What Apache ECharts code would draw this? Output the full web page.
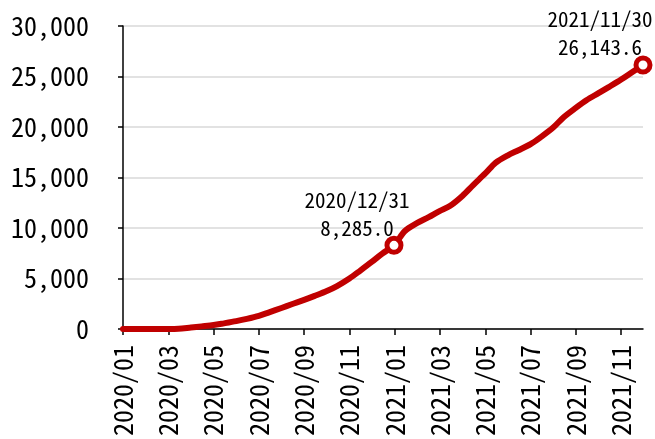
<!DOCTYPE html>
<html>
<head>
<meta charset="utf-8">
<script src="https://cdn.jsdelivr.net/npm/echarts@6/dist/echarts.min.js"></script>
<style>
  html, body { margin: 0; padding: 0; background: #fff; }
  #chart { width: 655px; height: 439px; }
</style>
</head>
<body>
<div id="chart"></div>
<script>
// Cumulative total, sampled on the 1st and mid-month, plus the two end-of-period values
const dates = [
  '2020/01/01', '2020/02/01', '2020/03/01', '2020/03/15', '2020/04/01', '2020/04/15',
  '2020/05/01', '2020/05/15', '2020/06/01', '2020/06/15', '2020/07/01', '2020/07/15',
  '2020/08/01', '2020/08/15', '2020/09/01', '2020/09/15', '2020/10/01', '2020/10/15',
  '2020/11/01', '2020/11/15', '2020/12/01', '2020/12/15', '2020/12/31',
  '2021/01/15', '2021/02/01', '2021/02/15', '2021/03/01', '2021/03/15', '2021/04/01',
  '2021/04/15', '2021/05/01', '2021/05/15', '2021/06/01', '2021/06/15', '2021/07/01',
  '2021/07/15', '2021/08/01', '2021/08/15', '2021/09/01', '2021/09/15', '2021/10/01',
  '2021/10/15', '2021/11/01', '2021/11/15', '2021/11/30'
];
const values = [
  0, 0, 0, 20, 150, 260,
  390, 560, 780, 1000, 1300, 1650,
  2080, 2450, 2880, 3280, 3760, 4250,
  5000, 5760, 6660, 7470, 8285.0,
  9700, 10500, 11070, 11700, 12200, 13200,
  14250, 15400, 16450, 17200, 17700, 18300,
  19000, 19950, 20950, 21900, 22650, 23350,
  23950, 24700, 25400, 26143.6
];
// Dates that get a marker and a value label
const highlightDates = ['2020/12/31', '2021/11/30'];
// X axis labels, one every two months
const xTickLabels = [
  '2020/01', '2020/03', '2020/05', '2020/07', '2020/09', '2020/11',
  '2021/01', '2021/03', '2021/05', '2021/07', '2021/09', '2021/11'
];
// Y axis ticks
const yTicks = [0, 5000, 10000, 15000, 20000, 25000, 30000];

// Position of a date on the x axis, in months since 2020/01/01
function monthPos(s) {
  const [y, m, d] = s.split('/').map(Number);
  const days = new Date(y, m, 0).getDate();
  return (y - 2020) * 12 + (m - 1) + (d - 1) / days;
}
function tickPos(label) {
  const [y, m] = label.split('/').map(Number);
  return (y - 2020) * 12 + (m - 1);
}

// Horizontal shift of each callout relative to its marker
const calloutShift = [-37, -43];

const lineData = dates.map((d, i) => [monthPos(d), values[i]]);
const markData = highlightDates.map((d, k) => {
  const i = dates.indexOf(d);
  return {
    value: [monthPos(d), values[i]],
    date: d,
    label: { offset: [calloutShift[k], 6] }
  };
});
const xTicks = xTickLabels.map(tickPos);

const FONT = "'Noto Sans Mono CJK JP', 'Liberation Mono', monospace";
const RED = '#C00000';

const chart = echarts.init(document.getElementById('chart'), null, { renderer: 'canvas' });
chart.setOption({
  backgroundColor: '#fff',
  animation: false,
  grid: { left: 123, right: 12, top: 26, bottom: 110, containLabel: false },
  xAxis: {
    type: 'value',
    min: 0,
    max: monthPos(dates[dates.length - 1]),
    splitLine: { show: false },
    axisLine: { show: true, onZero: false, lineStyle: { color: '#000', width: 1.5 } },
    axisTick: { show: true, length: 6, customValues: xTicks, lineStyle: { color: '#000', width: 1.5 } },
    axisLabel: {
      customValues: xTicks,
      rotate: 90,
      margin: 16,
      fontFamily: FONT,
      fontSize: 26,
      color: '#000',
      formatter: v => xTickLabels[xTicks.indexOf(Math.round(v))] || ''
    }
  },
  yAxis: {
    type: 'value',
    min: yTicks[0],
    max: yTicks[yTicks.length - 1],
    interval: yTicks[1] - yTicks[0],
    axisLine: { show: true, lineStyle: { color: '#000', width: 1.5 } },
    axisTick: { show: true, length: 5, lineStyle: { color: '#000', width: 1.5 } },
    splitLine: { show: true, lineStyle: { color: '#d9d9d9', width: 1.5 } },
    axisLabel: {
      margin: 34,
      fontFamily: FONT,
      fontSize: 26,
      color: '#000',
      formatter: v => v.toLocaleString('en-US')
    }
  },
  series: [
    {
      type: 'line',
      data: lineData,
      showSymbol: false,
      symbol: 'none',
      smooth: 0.3,
      lineStyle: { color: RED, width: 6, cap: 'round', join: 'round' },
      z: 2
    },
    {
      type: 'scatter',
      data: markData,
      symbol: 'circle',
      symbolSize: 14,
      itemStyle: { color: '#fff', borderColor: RED, borderWidth: 5, opacity: 1 },
      label: {
        show: true,
        position: 'top',
        distance: 0,
        align: 'center',
        fontFamily: FONT,
        fontSize: 21,
        lineHeight: 28,
        color: '#000',
        formatter: p => p.data.date + '\n' +
          p.data.value[1].toLocaleString('en-US', { minimumFractionDigits: 1, maximumFractionDigits: 1 })
      },
      z: 3
    }
  ]
});
</script>
</body>
</html>
